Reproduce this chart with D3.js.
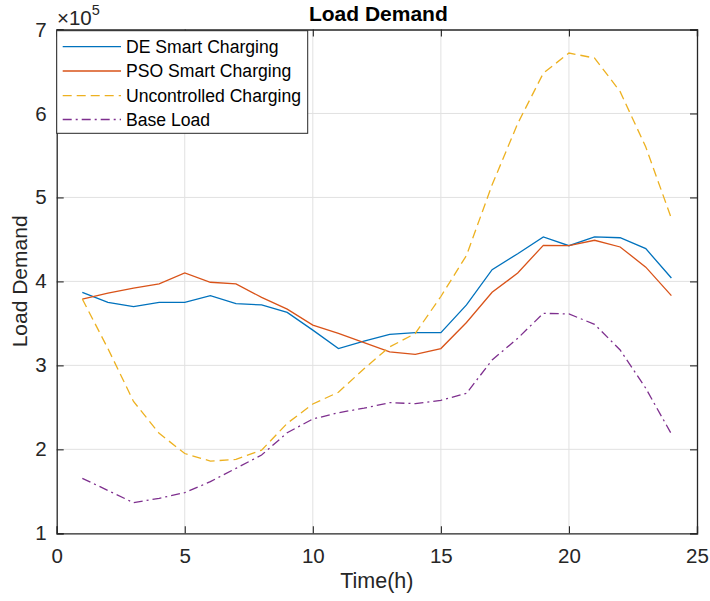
<!DOCTYPE html>
<html><head><meta charset="utf-8">
<script src="https://cdn.jsdelivr.net/npm/d3@7"></script>
<style>body{margin:0;background:#fff;} svg{display:block;font-family:"Liberation Sans",Arial,Helvetica,sans-serif;}</style>
</head><body>
<svg id="c" width="710" height="601"></svg>
<script>
const hours = d3.range(1, 25);
const deSmart = [387000,375000,370000,375000,375000,383000,373500,372000,363000,342000,320000,329000,337000,339000,339000,372000,414000,433000,453000,442500,453000,452000,439000,404000];
const psoSmart = [379000,386000,392000,397000,410000,399000,397000,381000,367000,348000,338000,327000,316000,313000,320000,351000,387000,410000,443000,442500,449000,441000,417000,383000];
const uncontrolled = [379000,320000,257000,219000,195000,186000,188000,199000,231000,254000,268000,296000,322000,338000,382000,431000,515000,588000,648000,672000,666000,626000,560000,475000];
const baseLoad = [165500,151000,136400,141700,148400,161500,177400,193200,219800,236100,243600,249000,255600,254400,258400,266700,306400,332200,362000,361200,348900,318300,272700,218300];
const seriesNames = ["DE Smart Charging","PSO Smart Charging","Uncontrolled Charging","Base Load"];
const xTicks = [0,5,10,15,20,25];
const yTicks = [100000,200000,300000,400000,500000,600000,700000];

const colors = ["#0072BD","#D95319","#EDB120","#7E2F8E"];
const dashes = [null, null, "9,5", "9,4,2,4"];
const seriesData = [deSmart, psoSmart, uncontrolled, baseLoad];

const L = 56.7, R = 697, T = 29.5, B = 533.3;
const svg = d3.select("#c");
const x = d3.scaleLinear().domain([0,25]).range([L,R]);
const y = d3.scaleLinear().domain([100000,700000]).range([B,T]);
const axisCol = "#262626";

// grid
const g = svg.append("g");
g.selectAll(".gx").data(xTicks.slice(1,-1)).enter().append("line")
  .attr("x1",d=>x(d)).attr("x2",d=>x(d)).attr("y1",T).attr("y2",B)
  .attr("stroke","#e1e1e1").attr("stroke-width",1);
g.selectAll(".gy").data(yTicks.slice(1,-1)).enter().append("line")
  .attr("y1",d=>y(d)).attr("y2",d=>y(d)).attr("x1",L).attr("x2",R)
  .attr("stroke","#e1e1e1").attr("stroke-width",1);

// lines
const line = d3.line().x((d,i)=>x(hours[i])).y(d=>y(d));
seriesData.forEach((s,k)=>{
  svg.append("path").datum(s).attr("d",line).attr("fill","none")
    .attr("stroke",colors[k]).attr("stroke-width",1.3)
    .attr("stroke-dasharray",dashes[k]);
});

// axes (ticks inward)
const tl = 7;
const fmtY = d => d/100000;
const axB = d3.axisBottom(x).tickValues(xTicks).tickSize(-tl).tickPadding(15);
const axT = d3.axisTop(x).tickValues(xTicks).tickSize(-tl).tickFormat("");
const axLft = d3.axisLeft(y).tickValues(yTicks).tickSize(-tl).tickPadding(10).tickFormat(fmtY);
const axRt = d3.axisRight(y).tickValues(yTicks).tickSize(-tl).tickFormat("");
function style(sel){
  sel.selectAll("path").attr("stroke",axisCol).attr("stroke-width",1.3);
  sel.selectAll("line").attr("stroke",axisCol).attr("stroke-width",1.1);
  sel.selectAll("text").attr("fill",axisCol).style("font-size","20.5px").style("font-family","'Liberation Sans',Arial,sans-serif");
}
style(svg.append("g").attr("transform",`translate(0,${B})`).call(axB));
style(svg.append("g").attr("transform",`translate(0,${T})`).call(axT));
style(svg.append("g").attr("transform",`translate(${L},0)`).call(axLft));
style(svg.append("g").attr("transform",`translate(${R},0)`).call(axRt));

// exponent
const ex = svg.append("text").attr("x",57).attr("y",25).attr("fill",axisCol).style("font-size","20.5px");
ex.append("tspan").text("×10");
ex.append("tspan").attr("dy",-10).style("font-size","14.5px").text("5");

// title & labels
svg.append("text").attr("x",(L+R)/2 + 1.5).attr("y",21).attr("text-anchor","middle")
  .attr("fill","#000").style("font-size","21px").style("font-weight","bold").text("Load Demand");
svg.append("text").attr("x",(L+R)/2).attr("y",588).attr("text-anchor","middle")
  .attr("fill",axisCol).style("font-size","21.5px").text("Time(h)");
svg.append("text").attr("transform",`translate(27,${(T+B)/2}) rotate(-90)`).attr("text-anchor","middle")
  .attr("fill",axisCol).style("font-size","21px").text("Load Demand");

// legend
const lg = svg.append("g");
lg.append("rect").attr("x",56.7).attr("y",30.7).attr("width",251).attr("height",102.6)
  .attr("fill","#fff").attr("stroke",axisCol).attr("stroke-width",1);
const rowY = [46.7,71,95.7,119.5];
seriesNames.forEach((n,k)=>{
  lg.append("line").attr("x1",62.7).attr("x2",121).attr("y1",rowY[k]).attr("y2",rowY[k])
    .attr("stroke",colors[k]).attr("stroke-width",1.3).attr("stroke-dasharray",dashes[k]);
  lg.append("text").attr("x",126).attr("y",rowY[k]).attr("dy","0.36em")
    .attr("fill","#000").style("font-size","17.6px").text(n);
});
</script>
</body></html>
